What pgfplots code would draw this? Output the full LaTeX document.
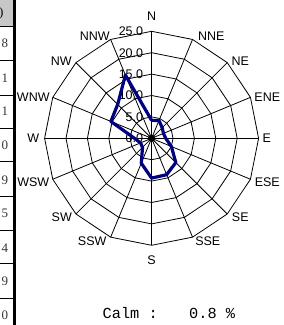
\documentclass[border=0pt]{standalone}
\usepackage{pgfplots}
\pgfplotsset{compat=1.18}
\usepgfplotslibrary{polar}
\usepackage{fontspec}
\setmainfont{Liberation Sans}
\newfontfamily\serifdigits{Liberation Serif}
\newfontfamily\calmfont{Liberation Mono}
\definecolor{rosecol}{RGB}{0,0,128}
\begin{document}
\begin{tikzpicture}
\path[use as bounding box] (0pt,0pt) rectangle (284pt,325pt);
\begin{polaraxis}[
  at={(151.6pt,186.7pt)}, anchor=center,
  scale only axis, width=214pt, height=214pt,
  xmin=0, xmax=360, ymin=0, ymax=25,
  xtick=\empty, ytick=\empty,
  axis line style={draw=none},
  clip=false,
]
% polygonal rings
\pgfplotsinvokeforeach{5,10,15,20,25}{
  \addplot[black,line width=0.8pt,no marks] coordinates {(0,#1)(22.5,#1)(45,#1)(67.5,#1)(90,#1)(112.5,#1)(135,#1)(157.5,#1)(180,#1)(202.5,#1)(225,#1)(247.5,#1)(270,#1)(292.5,#1)(315,#1)(337.5,#1)(360,#1)};
}
% spokes
\pgfplotsinvokeforeach{0,22.5,45,67.5,90,112.5,135,157.5}{
  \addplot[black,line width=0.8pt,no marks] coordinates {(#1,25)(#1+180,25)};
}
% radial labels
\foreach \r/\t in {0/0.0,5/5.0,10/10.0,15/15.0,20/20.0,25/25.0}{
  \edef\temp{\noexpand\node[anchor=east,inner sep=0pt,font=\noexpand\fontsize{12.5}{14}\noexpand\selectfont,xshift=-8.3pt] at (axis cs:90,\r) {\t};}
  \temp
}
% wind rose frequencies (%), angle = 90 - bearing
\addplot[rosecol,line width=3.2pt,line join=round,no marks] coordinates {
(90,4.2)     % N
(67.5,4.5)   % NNE
(45,3.5)     % NE
(22.5,3.0)   % ENE
(0,3.3)      % E
(337.5,5.0)  % ESE
(315,8.0)    % SE
(292.5,9.2)  % SSE
(270,9.3)    % S
(247.5,6.3)  % SSW
(225,3.0)    % SW
(202.5,2.8)  % WSW
(180,4.0)    % W
(157.5,10.3) % WNW
(135,11.2)   % NW
(112.5,16.0) % NNW
(90,4.2)
};
\addplot[black,only marks,mark=*,mark size=3.4pt] coordinates {(0,0)};
\end{polaraxis}
\begin{scope}[x=1pt,y=1pt]
% table remnant on the left
\fill[black!22] (0,298.3) rectangle (12.8,325);
\node[font=\serifdigits\fontsize{13}{14}\selectfont,anchor=center] at (1.2,312) {)};
\foreach \yy in {298.3,265,230,196.7,163.3,128.3,95,61.7,26.7}
  \draw[black,line width=0.7pt] (0,\yy) -- (13,\yy);
\foreach \yy/\dd in {281.7/8,246.7/1,213.3/1,180/0,145/9,111.7/5,76.7/4,43.3/9,10/0}
  \node[font=\serifdigits\fontsize{13}{14}\selectfont,text=black!80] at (5,\yy) {\dd};
\draw[black,line width=3.2pt] (14.2,0) -- (14.2,325);
% direction labels
\begin{scope}[every node/.style={font=\fontsize{12.5}{14}\selectfont,inner sep=0pt}]
\node at (151.6,309) {N};
\node at (211.2,288.5) {NNE};
\node at (240.3,264.3) {NE};
\node at (267.3,228.3) {ENE};
\node at (266.7,186.7) {E};
\node at (267.3,143.3) {ESE};
\node at (240.3,107.7) {SE};
\node at (207.8,84.3) {SSE};
\node at (151.6,65) {S};
\node at (92.2,84.3) {SSW};
\node at (61.8,107.7) {SW};
\node at (33.3,143.3) {WSW};
\node at (33.3,186.7) {W};
\node at (33.3,228.3) {WNW};
\node at (61.3,264.3) {NW};
\node at (94.8,289) {NNW};
\end{scope}
\node[anchor=west,inner sep=0pt,font=\calmfont\fontsize{15.3}{16}\selectfont] at (102.5,11.7) {Calm :};
\node[anchor=west,inner sep=0pt,font=\calmfont\fontsize{15.3}{16}\selectfont] at (189,11.7) {0.8 \%};
\end{scope}
\end{tikzpicture}
\end{document}
